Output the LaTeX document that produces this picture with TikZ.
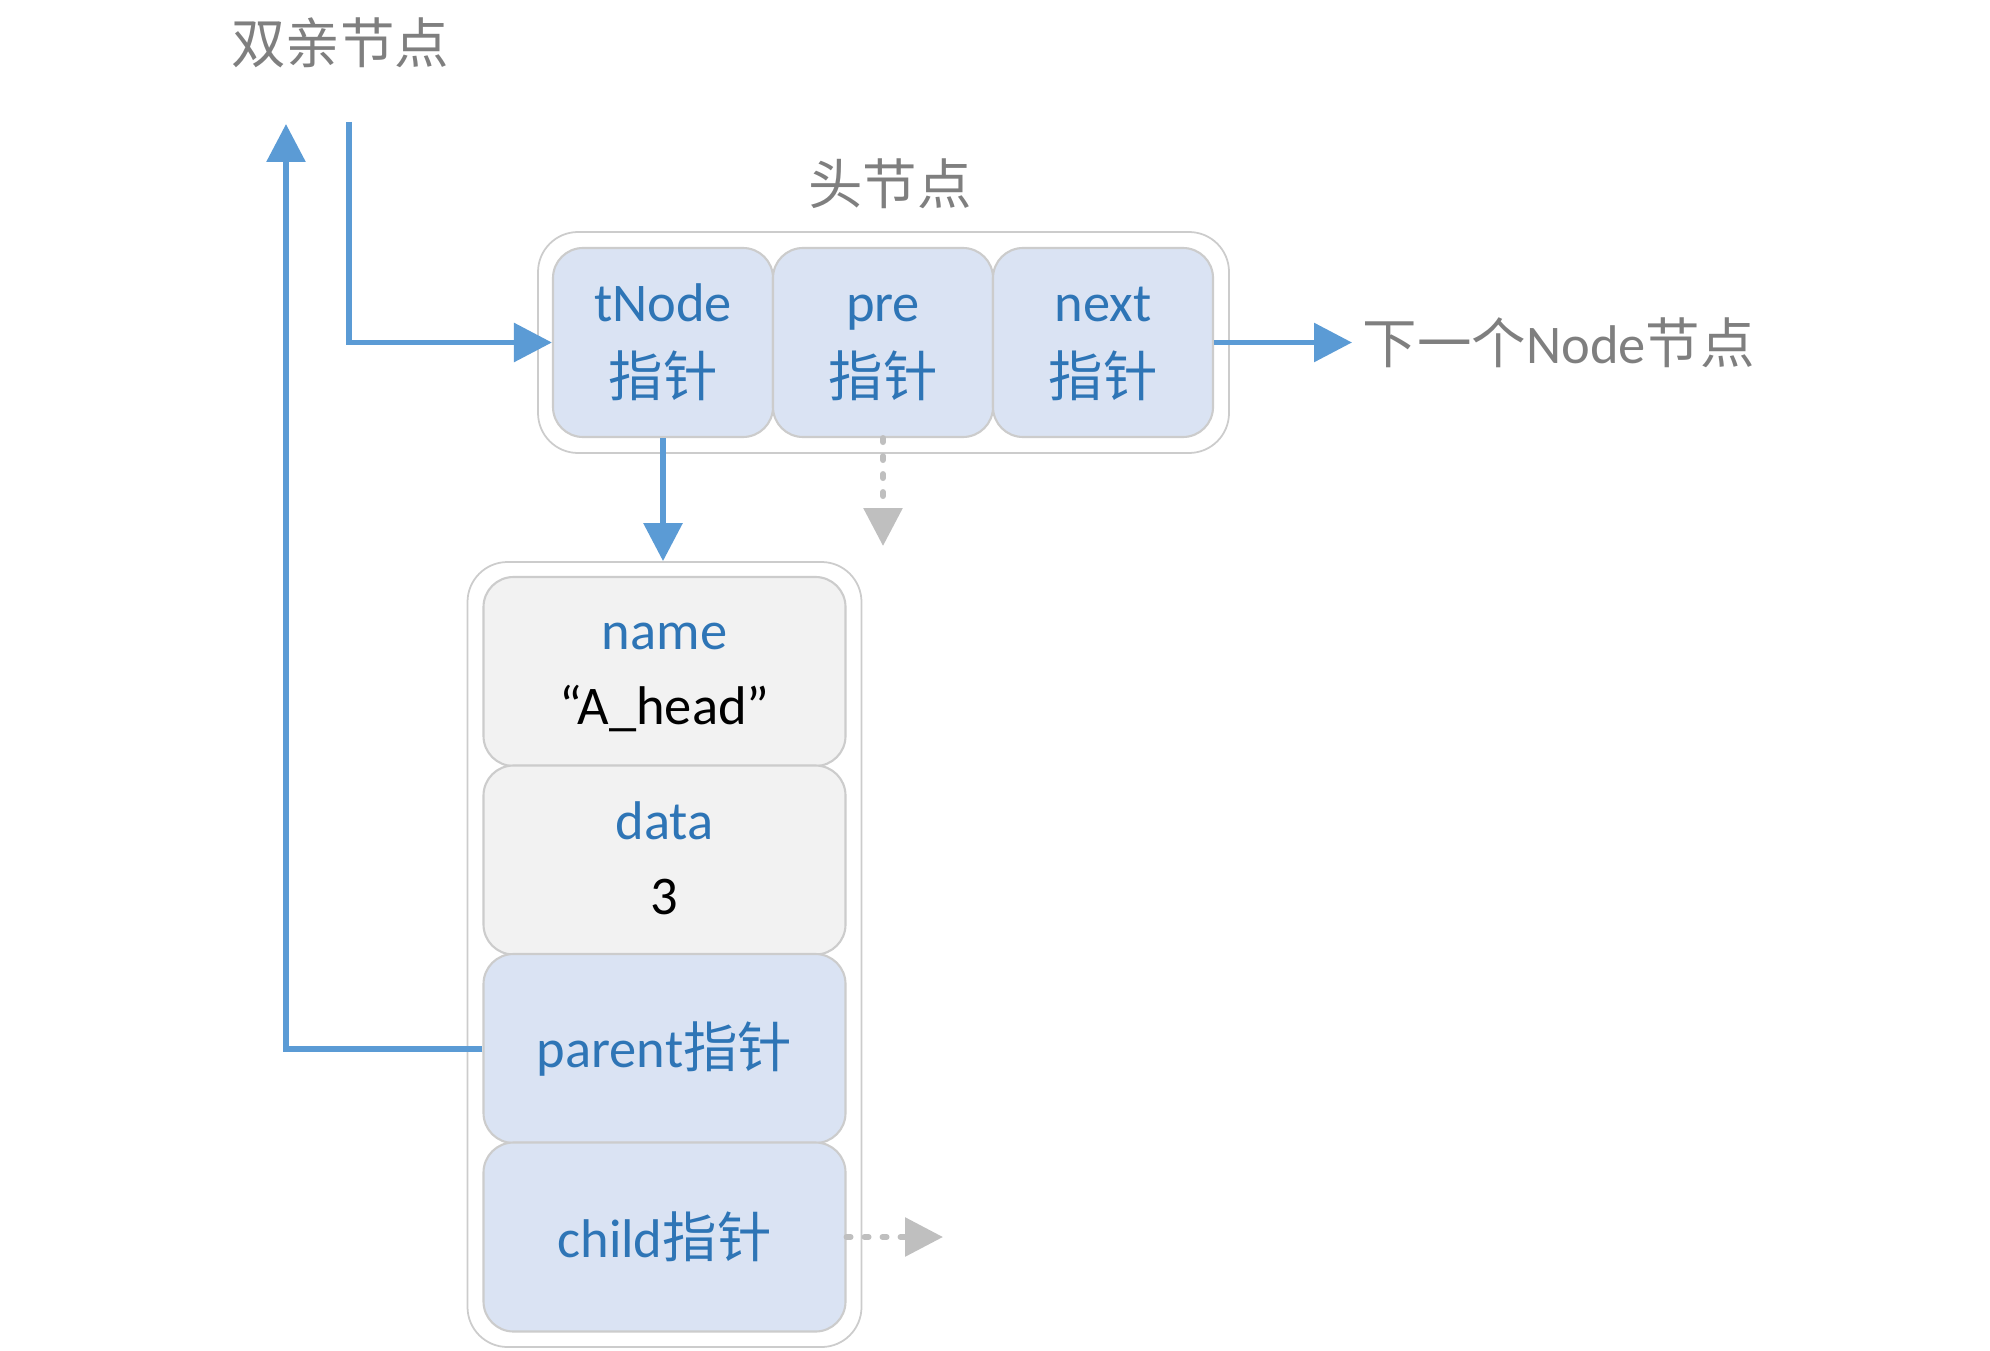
\documentclass[tikz,border=0pt]{standalone}
\usepackage{fontspec}
\setmainfont{Carlito}
\newfontfamily\cjk{Noto Sans CJK SC}
\usetikzlibrary{arrows.meta}
\definecolor{fldblue}{HTML}{DAE3F3}
\definecolor{fldgray}{HTML}{F2F2F2}
\definecolor{txtblue}{HTML}{2E75B6}
\definecolor{arrblue}{HTML}{5B9BD5}
\definecolor{lblgray}{HTML}{7F7F7F}
\definecolor{boxline}{HTML}{CCCCCC}
\definecolor{dashgray}{HTML}{BFBFBF}
% two lines of a field, with the same height and depth in every box
\newcommand{\twolines}[2]{\vphantom{Nd}#1\\#2\vphantom{\cjk 指}}

\begin{document}
\begin{tikzpicture}[
    font=\fontsize{15.5pt}{21.3pt}\selectfont,
    frame/.style={draw=boxline, line width=0.5pt, fill=white, rounded corners=0.4cm, inner sep=0pt},
    field/.style={draw=boxline, line width=0.6pt, rounded corners=0.3cm, inner sep=0pt,
                  minimum height=1.89cm, align=center, text=txtblue},
    headfield/.style={field, fill=fldblue, minimum width=2.2cm},
    bodyfield/.style={field, minimum width=3.62cm},
    link/.style={arrblue, line width=1.7pt, -{Triangle[length=0.38cm,width=0.38cm]}},
    dashlink/.style={dashgray, line width=1.7pt, line cap=round, dash pattern=on 0.04cm off 0.14cm,
                     -{Triangle[length=0.38cm,width=0.38cm]}},
    note/.style={text=lblgray}
  ]
  \useasboundingbox (0,0) rectangle (19.9,13.5);

  % labels
  \node[note] (parentlbl) at (3.40,13.07) {\cjk 双亲节点};
  \node[note] (headlbl) at (8.90,11.66) {\cjk 头节点};
  \node[note, anchor=west, inner sep=0pt] (nextlbl) at (13.62,10.075) {{\cjk 下一个}Node{\cjk 节点}};

  % head node
  \node[frame, minimum width=6.91cm, minimum height=2.21cm] (headbox) at (8.835,10.075) {};
  \node[headfield] (tnode) at (6.63,10.075) {\twolines{tNode}{\cjk 指针}};
  \node[headfield] (pre) at (8.83,10.075) {\twolines{pre}{\cjk 指针}};
  \node[headfield] (next) at (11.03,10.075) {\twolines{next}{\cjk 指针}};

  % tree node
  \node[frame, minimum width=3.94cm, minimum height=7.85cm] (nodebox) at (6.645,3.955) {};
  \node[bodyfield, fill=fldgray] (name) at (6.645,6.785) {\twolines{name}{\color{black}“A\_head”}};
  \node[bodyfield, fill=fldgray] (data) at (6.645,4.90) {\twolines{data}{\color{black}3}};
  \node[bodyfield, fill=fldblue] (parent) at (6.645,3.015) {parent{\cjk 指针}};
  \node[bodyfield, fill=fldblue] (child) at (6.645,1.13) {child{\cjk 指针}};

  % connectors
  \coordinate (uptip) at (2.86,12.26);
  \coordinate (downstart) at (3.49,12.28);
  \coordinate (nexttip) at (13.52,10.075);
  \coordinate (pretip) at (8.83,8.04);
  \coordinate (childtip) at (9.43,1.13);

  \draw[link] (parent.west) -| (uptip);
  \draw[link] (downstart) |- (tnode.west);
  \draw[link] (next.east) -- (nexttip);
  \draw[link] (tnode.south) -- (tnode.south |- nodebox.north);
  \draw[dashlink] (pre.south) -- (pretip);
  \draw[dashlink] (child.east) -- (childtip);
\end{tikzpicture}
\end{document}
